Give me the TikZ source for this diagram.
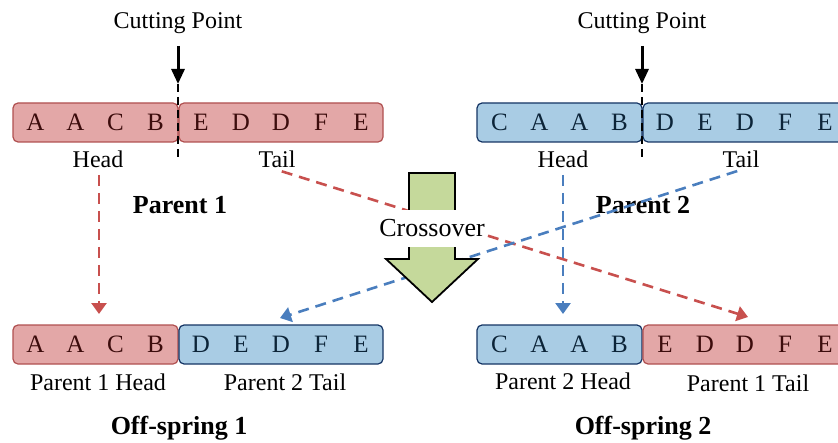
\documentclass[tikz,border=0pt]{standalone}
\usepackage{fontspec}
\setmainfont{Liberation Serif}
\usetikzlibrary{arrows.meta}
\definecolor{rfill}{RGB}{227,167,167}
\definecolor{rdraw}{RGB}{176,80,80}
\definecolor{rtext}{RGB}{60,12,12}
\definecolor{bfill}{RGB}{169,204,228}
\definecolor{bdraw}{RGB}{20,52,100}
\definecolor{btext}{RGB}{12,36,56}
\definecolor{rline}{RGB}{200,80,78}
\definecolor{bline}{RGB}{74,126,190}
\definecolor{gfill}{RGB}{197,217,155}
\newcommand{\lt}[1]{\makebox[20pt]{#1}}
\tikzset{
  gene/.style={draw, rounded corners=2.5pt, line width=0.6pt, inner sep=0pt, outer sep=0pt,
    anchor=north west, minimum height=19.5pt, font=\fontsize{12.5}{14}\selectfont},
  headbox/.style={gene, minimum width=82.5pt},
  tailbox/.style={gene, minimum width=102pt},
  redbox/.style={fill=rfill, draw=rdraw, text=rtext},
  bluebox/.style={fill=bfill, draw=bdraw, text=btext},
  lab/.style={inner sep=1pt, font=\fontsize{12}{14}\selectfont},
  title/.style={inner sep=1pt, font=\fontsize{13}{15}\selectfont\bfseries},
  cutarrow/.style={line width=1.5pt, -{Triangle[width=6.5pt,length=7.5pt]}},
  cutline/.style={line width=1pt, dash pattern=on 4pt off 2.5pt},
  redarrow/.style={rline, line width=1.3pt, dash pattern=on 5.5pt off 3.5pt, -{Triangle[width=7.5pt,length=5.5pt]}},
  bluearrow/.style={bline, line width=1.3pt, dash pattern=on 5.5pt off 3.5pt, -{Triangle[width=7.5pt,length=5.5pt]}},
}
\begin{document}
\begin{tikzpicture}[x=0.5pt,y=-0.5pt]
\useasboundingbox (0,0) rectangle (838,443);
\clip (0,0) rectangle (838,443);
% Parent 1
\node[headbox, redbox] (p1h) at (13,103) {\lt{A}\lt{A}\lt{C}\lt{B}};
\node[tailbox, redbox] (p1t) at (179,103) {\lt{E}\lt{D}\lt{D}\lt{F}\lt{E}};
% Parent 2
\node[headbox, bluebox] (p2h) at (477,103) {\lt{C}\lt{A}\lt{A}\lt{B}};
\node[tailbox, bluebox] (p2t) at (643,103) {\lt{D}\lt{E}\lt{D}\lt{F}\lt{E}};
% Offspring 1
\node[headbox, redbox] (o1h) at (13,325) {\lt{A}\lt{A}\lt{C}\lt{B}};
\node[tailbox, bluebox] (o1t) at (179,325) {\lt{D}\lt{E}\lt{D}\lt{F}\lt{E}};
% Offspring 2
\node[headbox, bluebox] (o2h) at (477,325) {\lt{C}\lt{A}\lt{A}\lt{B}};
\node[tailbox, redbox] (o2t) at (643,325) {\lt{E}\lt{D}\lt{D}\lt{F}\lt{E}};
% labels
\node[lab] (cp1) at (178,23) {Cutting Point};
\node[lab] (cp2) at (642,23) {Cutting Point};
\node[lab] (h1) at (98,159) {Head};
\node[lab] (t1) at (277,159) {Tail};
\node[lab] (h2) at (563,159) {Head};
\node[lab] (t2) at (741,159) {Tail};
\node[title] (n1) at (180,205) {Parent 1};
\node[title] (n2) at (643,205) {Parent 2};
\node[lab] (l1) at (98,382) {Parent 1 Head};
\node[lab] (l2) at (285,382) {Parent 2 Tail};
\node[lab] (l3) at (563,381) {Parent 2 Head};
\node[lab] (l4) at (748,383) {Parent 1 Tail};
\node[title] (n3) at (179,428) {Off-spring 1};
\node[title] (n4) at (643,428) {Off-spring 2};
% cutting points
\coordinate (c1) at (178,84);
\coordinate (c1b) at (178,160);
\coordinate (c2) at (642,84);
\coordinate (c2b) at (642,160);
\draw[cutarrow, shorten <=5pt] (cp1.south) -- (c1);
\draw[cutline] (c1) -- (c1b);
\draw[cutarrow, shorten <=5pt] (cp2.south) -- (c2);
\draw[cutline] (c2) -- (c2b);
% transfer arrows
\coordinate (e1) at (99,314);
\coordinate (e2) at (748,317);
\coordinate (e3) at (563,314);
\coordinate (e4) at (280,318);
\draw[redarrow, shorten <=2.5pt] (h1.south -| e1) -- (e1);
\draw[redarrow, shorten <=2.5pt] (t1.south) -- (e2);
\draw[bluearrow, shorten <=2.5pt] (h2.south -| e3) -- (e3);
\draw[bluearrow, shorten <=2pt] (t2.south) -- (e4);
% crossover block arrow
\draw[fill=gfill, line width=0.9pt, line join=miter]
  (409,173) -- (455,173) -- (455,259) -- (478,259) -- (432,302) -- (386,259) -- (409,259) -- cycle;
\node[fill=white, inner xsep=1pt, inner ysep=0pt, minimum height=18.5pt,
  font=\fontsize{13}{15}\selectfont] (cx) at (432,228) {Crossover};
\end{tikzpicture}
\end{document}
